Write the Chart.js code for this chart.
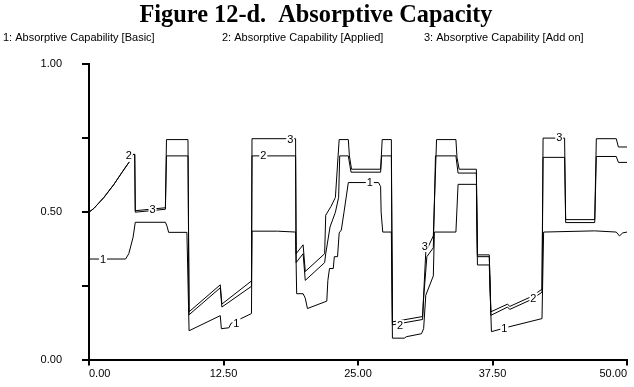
<!DOCTYPE html>
<html><head><meta charset="utf-8">
<script src="https://cdn.jsdelivr.net/npm/chart.js@4.4.1/dist/chart.umd.min.js"></script>
<style>html,body{margin:0;padding:0;background:#fff}</style>
</head><body>
<canvas id="c" width="634" height="387"></canvas>
<script>
const titleText = 'Figure 12-d.  Absorptive Capacity';
const legendTexts = ['1: Absorptive Capability [Basic]', '2: Absorptive Capability [Applied]', '3: Absorptive Capability [Add on]'];

const basicTime  = [0,3.4,3.7,4.1,4.3,7.1,7.25,7.4,9.1,9.3,12.2,12.3,13.0,13.2,15.1,15.15,17.5,19.2,19.3,19.9,20.1,20.3,22.1,22.2,22.35,22.7,22.8,23.1,23.25,23.45,23.7,24.1,26.9,27.1,27.15,27.3,28.1,28.2,29.3,29.5,30.9,31.1,31.3,32.0,32.1,34.1,34.3,36.0,36.1,37.2,37.4,39.0,42.1,42.25,47.0,49.0,49.3,49.6,50];
const basicValue = [0.342,0.342,0.36,0.416,0.466,0.466,0.453,0.432,0.432,0.10,0.151,0.107,0.11,0.125,0.158,0.436,0.436,0.433,0.225,0.225,0.21,0.175,0.20,0.27,0.31,0.31,0.35,0.35,0.43,0.44,0.50,0.60,0.60,0.587,0.50,0.433,0.433,0.075,0.075,0.08,0.09,0.107,0.22,0.285,0.433,0.433,0.594,0.594,0.322,0.322,0.097,0.113,0.141,0.433,0.437,0.433,0.42,0.43,0.433];

const appliedTime  = [0,0.46,1.39,2.32,3.06,3.71,4.1,4.25,4.3,7.1,7.2,9.2,9.3,12.2,12.35,15.1,15.15,19.2,19.25,19.9,20.1,21.9,22.0,22.4,22.9,23.2,23.3,24.1,24.35,27.1,27.2,28.1,28.2,31.0,31.1,31.4,32.0,32.2,34.1,34.3,36.0,36.1,37.2,37.35,38.9,39.1,41.1,42.1,42.2,44.2,44.3,47.0,47.15,49.0,49.2,50];
const appliedValue = [0.50,0.513,0.55,0.594,0.634,0.668,0.695,0.695,0.50,0.51,0.69,0.69,0.154,0.245,0.18,0.25,0.69,0.69,0.33,0.36,0.27,0.33,0.36,0.45,0.50,0.55,0.69,0.69,0.635,0.635,0.69,0.69,0.12,0.138,0.21,0.35,0.38,0.69,0.69,0.632,0.632,0.35,0.35,0.152,0.18,0.172,0.205,0.23,0.685,0.685,0.465,0.465,0.688,0.688,0.668,0.668];

const addOnTime  = [0,0.46,1.39,2.32,3.06,3.71,4.1,4.25,4.3,7.1,7.2,9.2,9.3,12.2,12.35,15.1,15.15,19.2,19.25,19.9,20.1,21.9,22.0,22.5,22.9,23.25,24.1,24.2,24.4,27.1,27.25,28.1,28.2,31.0,31.1,31.3,32.0,32.3,34.1,34.2,34.4,36.0,36.1,37.2,37.35,38.9,39.1,41.1,42.1,42.2,44.2,44.3,47.0,47.15,49.0,49.2,50];
const addOnValue = [0.50,0.513,0.55,0.594,0.634,0.668,0.695,0.695,0.505,0.515,0.745,0.745,0.164,0.255,0.19,0.268,0.748,0.748,0.36,0.39,0.30,0.36,0.49,0.52,0.55,0.745,0.745,0.69,0.645,0.645,0.745,0.745,0.13,0.148,0.22,0.366,0.42,0.745,0.745,0.685,0.645,0.645,0.356,0.356,0.164,0.19,0.182,0.215,0.24,0.75,0.75,0.475,0.475,0.748,0.748,0.72,0.72];

const xTickValues = [0, 12.5, 25, 37.5, 50];
const yTickValues = [0, 0.25, 0.5, 0.75, 1];
const yLabelledTicks = [0, 0.5, 1];

const labelText  = ['1','1','1','1','2','2','2','2','3','3','3','3'];
const labelTime  = [1.3,13.7,26.1,38.6,3.7,16.2,28.9,41.3,5.9,18.7,31.2,43.7];
const labelValue = [0.342,0.124,0.60,0.107,0.69,0.69,0.117,0.21,0.51,0.745,0.386,0.752];

function pts(ts, vs){ return ts.map((t,i)=>({x:t, y:vs[i]})); }

const decor = {
  id:'decor',
  afterDraw(chart){
    const ctx = chart.ctx, xs = chart.scales.x, ys = chart.scales.y;
    ctx.save();
    ctx.fillStyle = '#000';
    ctx.textAlign = 'center';
    ctx.textBaseline = 'alphabetic';
    ctx.font = 'bold 25px "Liberation Serif"';
    ctx.fillText(titleText, 316, 22, 353);
    ctx.font = '11px "Liberation Sans"';
    ctx.textAlign = 'left';
    const lx = [3, 222, 424], lw = [155, 173, 204];
    legendTexts.forEach((t,i)=>ctx.fillText(t, lx[i], 41, lw[i]));
    ctx.textAlign = 'center';
    ctx.textBaseline = 'middle';
    labelText.forEach((t,i)=>{
      const px = xs.getPixelForValue(labelTime[i]);
      const py = ys.getPixelForValue(labelValue[i]);
      ctx.fillStyle = '#fff';
      ctx.fillRect(px-4, py-6, 8, 12);
      ctx.fillStyle = '#000';
      ctx.fillText(t, px, py+0.5);
    });
    ctx.restore();
  }
};

const ds = (label, data) => ({label, data, borderColor:'#000', borderWidth:1, pointRadius:0, tension:0, fill:false});

new Chart(document.getElementById('c'), {
  type:'line',
  data:{datasets:[
    ds(legendTexts[0], pts(basicTime, basicValue)),
    ds(legendTexts[1], pts(appliedTime, appliedValue)),
    ds(legendTexts[2], pts(addOnTime, addOnValue))
  ]},
  options:{
    responsive:false, animation:false, devicePixelRatio:1,
    layout:{padding:{top:64, right:7, left:0, bottom:0}},
    plugins:{legend:{display:false}, tooltip:{enabled:false}, title:{display:false}},
    scales:{
      x:{type:'linear', min:0, max:50,
        afterBuildTicks:s=>{ s.ticks = xTickValues.map(v=>({value:v})); },
        afterFit:s=>{ s.height = 25; },
        ticks:{callback:v=>Number(v).toFixed(2), align:'inner', color:'#000', padding:2, maxRotation:0, autoSkip:false, font:{family:'Liberation Sans', size:11}},
        grid:{drawOnChartArea:false, drawTicks:true, tickLength:5, color:'#000', lineWidth:2},
        border:{color:'#000', width:2}
      },
      y:{type:'linear', min:0, max:1,
        afterBuildTicks:s=>{ s.ticks = yTickValues.map(v=>({value:v})); },
        afterFit:s=>{ s.width = 89; },
        ticks:{callback:v=>yLabelledTicks.includes(v)?Number(v).toFixed(2):'', color:'#000', padding:20, font:{family:'Liberation Sans', size:11}},
        grid:{drawOnChartArea:false, drawTicks:true, tickLength:7, color:'#000', lineWidth:2},
        border:{color:'#000', width:2}
      }
    }
  },
  plugins:[decor]
});
</script>
</body></html>
